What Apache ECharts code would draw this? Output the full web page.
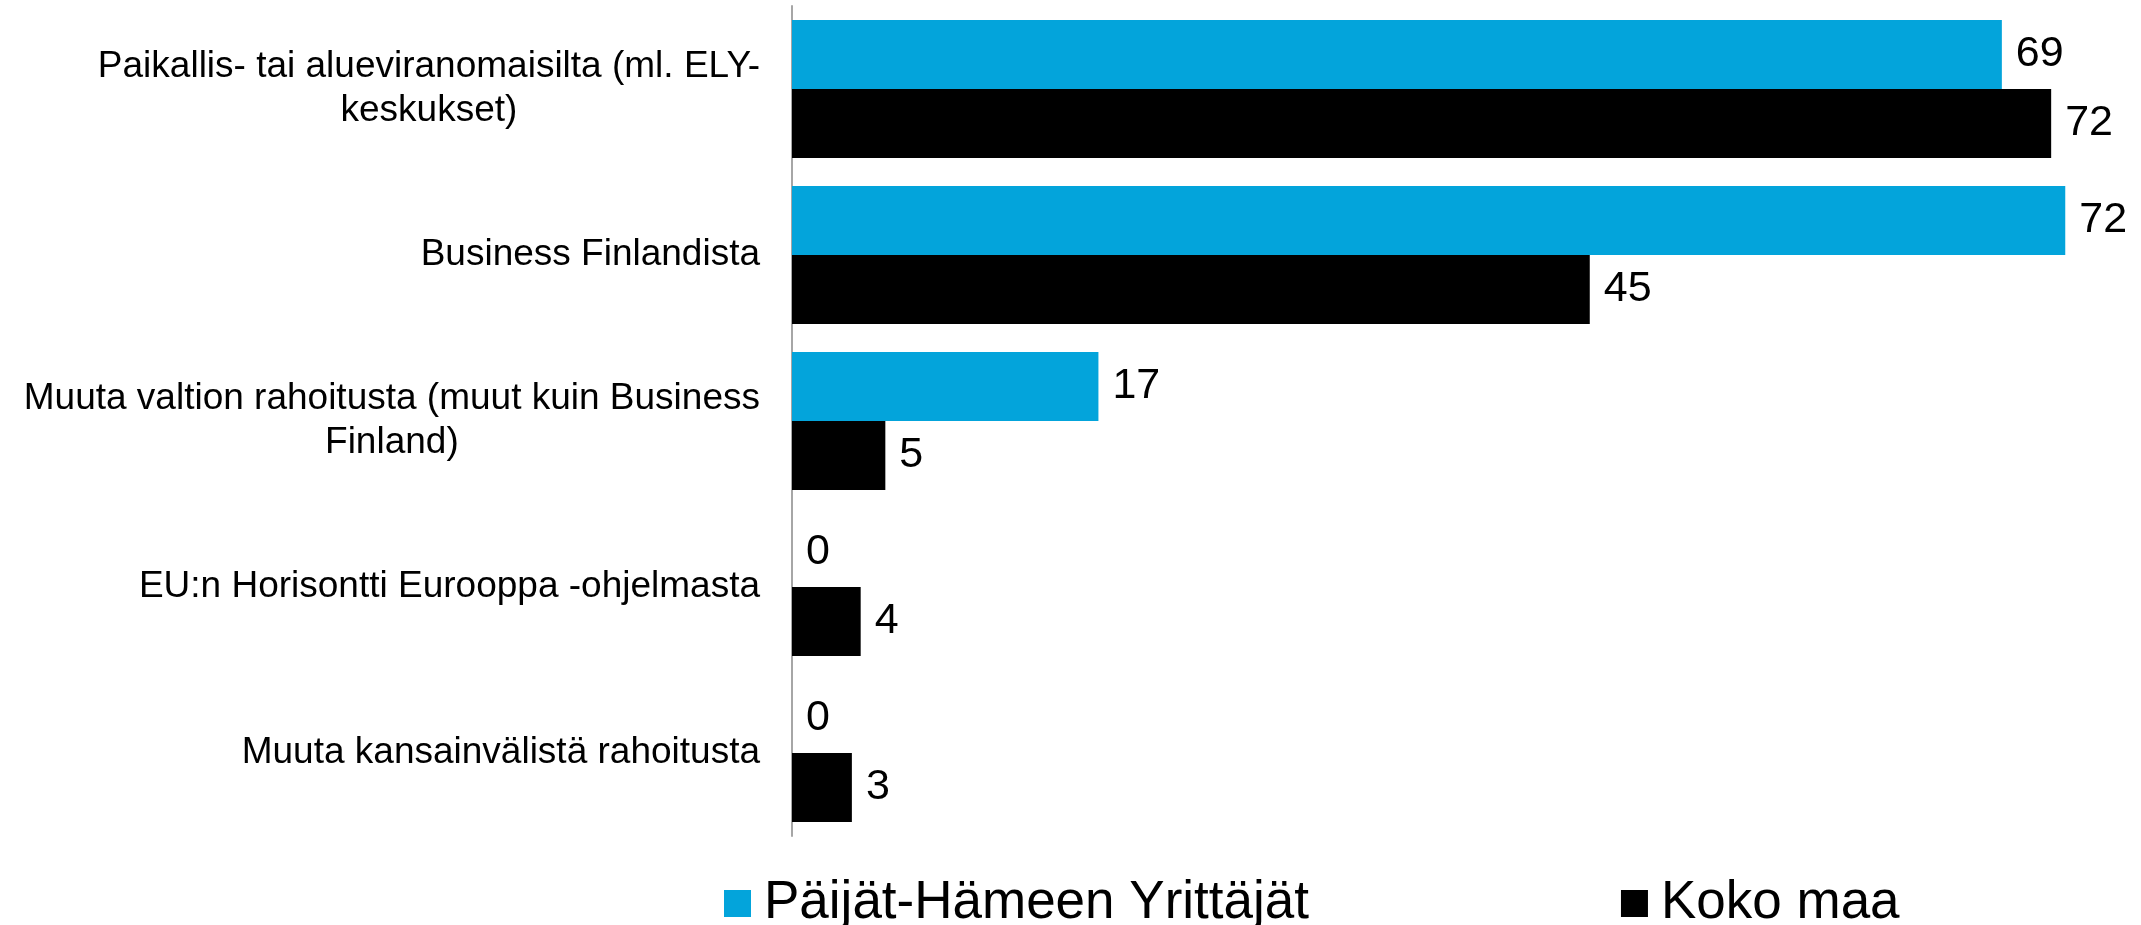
<!DOCTYPE html>
<html>
<head>
<meta charset="utf-8">
<script src="https://cdn.jsdelivr.net/npm/echarts@6/dist/echarts.min.js"></script>
<style>
html,body{margin:0;padding:0;background:#fff;}
#chart{width:2141px;height:925px;}
</style>
</head>
<body>
<div id="chart"></div>
<script>
var categories = [
  'Paikallis- tai alueviranomaisilta (ml. ELY-\nkeskukset)',
  'Business Finlandista',
  'Muuta valtion rahoitusta (muut kuin Business\nFinland)',
  'EU:n Horisontti Eurooppa -ohjelmasta',
  'Muuta kansainvälistä rahoitusta'
];
var seriesNames = ['Päijät-Hämeen Yrittäjät', 'Koko maa'];
var paijatHame = [68.7, 72.3, 17.4, 0, 0];
var kokoMaa = [71.5, 45.3, 5.3, 3.9, 3.4];

var FONT = 'Arial, "Liberation Sans", sans-serif';
var chart = echarts.init(document.getElementById('chart'), null, {renderer: 'canvas'});

var valueLabel = {
  show: true,
  position: 'right',
  distance: 14,
  color: '#000',
  fontFamily: FONT,
  fontSize: 43,
  formatter: function (p) { return Math.round(p.value); }
};

chart.setOption({
  animation: false,
  backgroundColor: '#fff',
  textStyle: {fontFamily: FONT},
  grid: {left: 792, right: 37, top: 6, bottom: 89, containLabel: false},
  xAxis: {
    type: 'value',
    min: 0,
    max: 74.5,
    show: false,
    splitLine: {show: false}
  },
  yAxis: {
    type: 'category',
    data: categories,
    inverse: true,
    axisLine: {show: true, lineStyle: {color: '#a6a6a6', width: 2}},
    axisTick: {show: false},
    axisLabel: {
      margin: 32,
      color: '#000',
      fontFamily: FONT,
      fontSize: 37,
      lineHeight: 44,
      formatter: function (v) {
        return v.split('\n').map(function (s) { return '{c|' + s + '}'; }).join('\n');
      },
      rich: {
        c: {align: 'center', fontSize: 37, lineHeight: 44, color: '#000', fontFamily: FONT}
      }
    }
  },
  legend: {
    data: seriesNames,
    left: 719,
    top: 872,
    itemWidth: 27,
    itemHeight: 27,
    itemGap: 312,
    icon: 'rect',
    textStyle: {
      color: '#000',
      fontFamily: FONT,
      fontSize: 53,
      lineHeight: 53,
      padding: [0, 0, 0, 8]
    }
  },
  series: [
    {
      name: seriesNames[0],
      type: 'bar',
      data: paijatHame,
      barGap: '0%',
      barCategoryGap: '17%',
      itemStyle: {color: '#03A4DB'},
      label: valueLabel
    },
    {
      name: seriesNames[1],
      type: 'bar',
      data: kokoMaa,
      barGap: '0%',
      barCategoryGap: '17%',
      itemStyle: {color: '#000000'},
      label: valueLabel
    }
  ]
});
</script>
</body>
</html>
